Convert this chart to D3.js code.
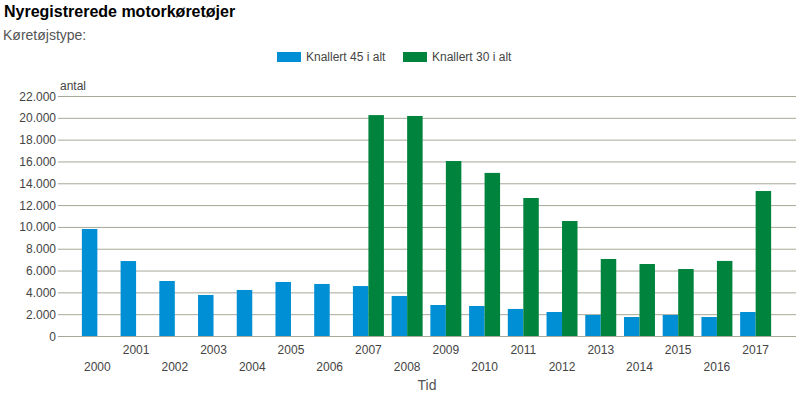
<!DOCTYPE html>
<html><head><meta charset="utf-8">
<script src="https://cdn.jsdelivr.net/npm/d3@7"></script>
<style>body{margin:0;background:#fff;font-family:Arial,"Liberation Sans",sans-serif;}</style>
</head><body><svg id="c" width="800" height="400"></svg>
<script>
const years = ["2000","2001","2002","2003","2004","2005","2006","2007","2008","2009","2010","2011","2012","2013","2014","2015","2016","2017"];
const seriesNames = ["Knallert 45 i alt","Knallert 30 i alt"];
const knallert45 = [9810,6870,5040,3760,4220,4950,4770,4580,3670,2840,2750,2480,2200,1930,1740,1930,1740,2200];
const knallert30 = [0,0,0,0,0,0,0,20250,20170,16040,14950,12650,10540,7060,6600,6140,6880,13290];
const yTicks = [0,2000,4000,6000,8000,10000,12000,14000,16000,18000,20000,22000];
const colors = ["#008fd5","#00843d"];

const svg = d3.select("#c");
const x = d3.scaleBand().domain(years).range([78,775]).paddingInner(0.2).paddingOuter(0.1);
const xs = d3.scaleBand().domain(seriesNames).range([0,x.bandwidth()]);
const y = d3.scaleLinear().domain([0,22000]).range([336,96]);
const fmt = v => d3.format(",")(v).replace(/,/g,".");

svg.append("text").attr("x",4).attr("y",17).attr("font-size",16).attr("font-weight","bold").attr("fill","#000").text("Nyregistrerede motorkøretøjer");
svg.append("text").attr("x",3).attr("y",40).attr("font-size",14).attr("fill","#555").text("Køretøjstype:");

// grid
svg.append("g").selectAll("line").data(yTicks).join("line")
  .attr("x1",58).attr("x2",796).attr("y1",d=>y(d)+0.5).attr("y2",d=>y(d)+0.5)
  .attr("stroke","#a8a898").attr("stroke-width",1);
svg.append("g").selectAll("text").data(yTicks).join("text")
  .attr("x",56).attr("y",d=>y(d)+4.5).attr("text-anchor","end").attr("font-size",12).attr("fill","#444").text(fmt);
svg.append("text").attr("x",60).attr("y",90).attr("font-size",12).attr("fill","#444").text("antal");

const data = years.map((yr,i)=>({yr, vals:[knallert45[i],knallert30[i]]}));
const g = svg.append("g").selectAll("g").data(data).join("g").attr("transform",d=>`translate(${x(d.yr)},0)`);
g.selectAll("rect").data(d=>d.vals.map((v,j)=>({v,j}))).join("rect")
  .attr("x",d=>xs(seriesNames[d.j])).attr("width",xs.bandwidth())
  .attr("y",d=>y(d.v)).attr("height",d=>y(0)-y(d.v)).attr("fill",d=>colors[d.j]);

// x labels staggered
svg.append("g").selectAll("text").data(years).join("text")
  .attr("x",d=>x(d)+x.bandwidth()/2).attr("y",(d,i)=>i%2===0?371:354)
  .attr("text-anchor","middle").attr("font-size",12).attr("fill","#444").text(d=>d);
svg.append("text").attr("x",427).attr("y",390).attr("text-anchor","middle").attr("font-size",14).attr("fill","#555").text("Tid");

// legend
const lx = [277,403];
const lg = svg.append("g").selectAll("g").data(seriesNames).join("g");
lg.append("rect").attr("x",(d,i)=>lx[i]).attr("y",52).attr("width",24).attr("height",10).attr("fill",(d,i)=>colors[i]);
lg.append("text").attr("x",(d,i)=>lx[i]+29).attr("y",61).attr("font-size",12).attr("fill","#444").text(d=>d);
</script></body></html>
